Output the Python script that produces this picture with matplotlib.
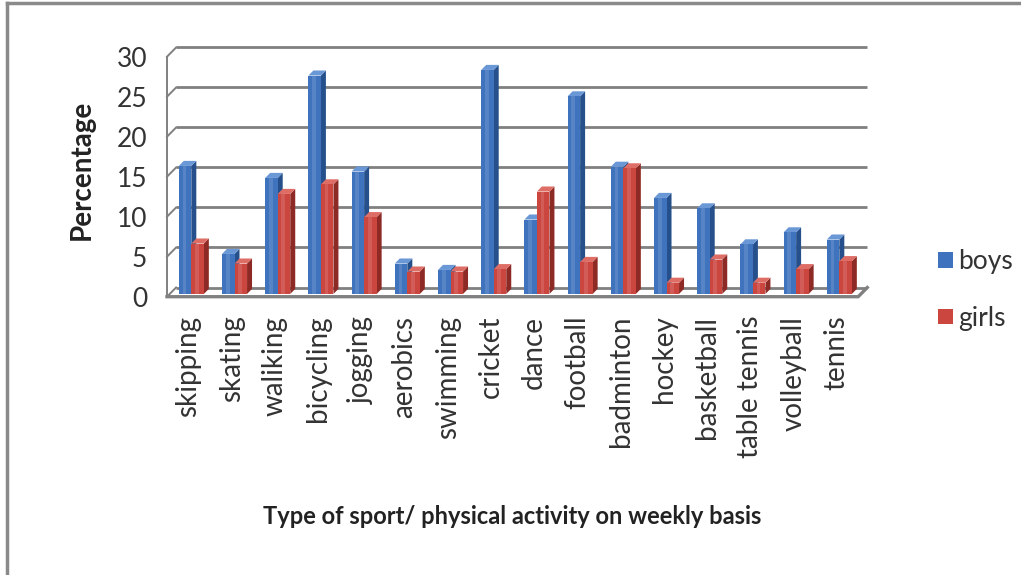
import matplotlib
matplotlib.use("Agg")
import matplotlib.pyplot as plt
from matplotlib.patches import Polygon, Patch
from matplotlib.lines import Line2D

plt.rcParams['font.family'] = ['Lato', 'DejaVu Sans']

activities = ['skipping', 'skating', 'waliking', 'bicycling', 'jogging', 'aerobics',
              'swimming', 'cricket', 'dance', 'football', 'badminton', 'hockey',
              'basketball', 'table tennis', 'volleyball', 'tennis']
boys = [16.0, 5.0, 14.5, 27.3, 15.3, 3.8, 3.0, 28.0, 9.3, 24.7, 15.9, 12.0, 10.7, 6.2, 7.7, 6.8]
girls = [6.3, 3.8, 12.5, 13.7, 9.6, 2.8, 2.8, 3.1, 12.8, 4.0, 15.7, 1.4, 4.3, 1.4, 3.1, 4.1]
yticks = [0, 5, 10, 15, 20, 25, 30]

W, H = 1021, 575
fig = plt.figure(figsize=(W / 100, H / 100), dpi=100)

# pixel scale of the plot area
PX_CAT, PX_UNIT = 43.2, 8.0
X0PX, Y0PX = 167.0, 296.7          # where x=-0.5, y=0 land (pixels from top-left)
xlim = (-0.7, 15.9)
ylim = (-1.5, 31.5)
left = X0PX + (xlim[0] + 0.5) * PX_CAT
bottom = Y0PX - ylim[0] * PX_UNIT
ax = fig.add_axes([left / W, 1 - bottom / H,
                   (xlim[1] - xlim[0]) * PX_CAT / W,
                   (ylim[1] - ylim[0]) * PX_UNIT / H])
ax.set_xlim(*xlim)
ax.set_ylim(*ylim)
for s in ax.spines.values():
    s.set_visible(False)

# depth of the floor / back wall in data units
DX, DY = 0.21, 1.15
grid_c = '#808080'
n = len(activities)

# back wall gridlines and side wall edges
for v in yticks:
    ax.plot([-0.5 + DX, n - 0.5 + DX], [v + DY, v + DY], color=grid_c, lw=2.0, zorder=1,
            solid_capstyle='butt')
    ax.plot([-0.5, -0.5 + DX], [v, v + DY], color=grid_c, lw=1.4, zorder=1)
ax.plot([-0.5, -0.5], [0, 30], color=grid_c, lw=1.4, zorder=1)
# floor front edge
ax.plot([-0.5, n - 0.5, n - 0.5 + DX], [0, 0, DY], color=grid_c, lw=2.4, zorder=1)


def bar3d(x0, w, h, front, side, top):
    f, d = 0.3, 0.55
    bx, by = x0 + DX * f, DY * f
    ox, oy = DX * d, DY * d
    ax.add_patch(Polygon([(bx + w, by), (bx + w + ox, by + oy), (bx + w + ox, by + h + oy),
                          (bx + w, by + h)], closed=True, fc=side, ec='none', zorder=3))
    ax.add_patch(Polygon([(bx, by + h), (bx + ox, by + h + oy), (bx + w + ox, by + h + oy),
                          (bx + w, by + h)], closed=True, fc=top, ec='none', zorder=3))
    ax.add_patch(Polygon([(bx, by), (bx + w, by), (bx + w, by + h), (bx, by + h)],
                         closed=True, fc=front, ec='none', zorder=3))
    ax.add_patch(Polygon([(bx + w * 0.3, by), (bx + w * 0.6, by), (bx + w * 0.6, by + h),
                          (bx + w * 0.3, by + h)], closed=True, fc='white', alpha=0.12,
                         ec='none', zorder=3))


bw = 0.29
blue = ('#3f73bd', '#25508c', '#6a97d6')
red = ('#cc4640', '#8e2a25', '#de6d66')
for i in range(n):
    bar3d(i - bw, bw, boys[i], *blue)
    bar3d(i, bw, girls[i], *red)

ax.set_yticks(yticks)
ax.set_yticklabels([str(v) for v in yticks], fontsize=19, color='#333333')
ax.set_xticks(range(n))
ax.set_xticklabels(activities, rotation=90, fontsize=20, color='#333333', va='top', ha='center')
ax.tick_params(axis='both', length=0)
ax.tick_params(axis='y', pad=8)
ax.tick_params(axis='x', pad=5)

fig.text(82 / W, 1 - 170 / H, 'Percentage', rotation=90, fontsize=20, fontweight='bold',
         ha='center', va='center', color='#222222')
fig.text(512 / W, 1 - 516 / H, 'Type of sport/ physical activity on weekly basis',
         fontsize=17, fontweight='bold', ha='center', va='center', color='#222222')

handles = [Patch(fc=blue[0], ec='none'), Patch(fc=red[0], ec='none')]
fig.legend(handles, ['boys', 'girls'], loc='center left', bbox_to_anchor=(938 / W, 1 - 290 / H),
           frameon=False, fontsize=19, handlelength=0.55, handleheight=0.55,
           handletextpad=0.2, labelspacing=1.2, borderpad=0, borderaxespad=0,
           labelcolor='#333333')

# outer frame (left and top edges)
fig.add_artist(Line2D([7 / W, 7 / W], [0, 1 - 3 / H], color='#8a8a8a', lw=2.5,
                      transform=fig.transFigure))
fig.add_artist(Line2D([7 / W, 1], [1 - 3 / H, 1 - 3 / H], color='#8a8a8a', lw=2.5,
                      transform=fig.transFigure))

fig.savefig('out.png', dpi=100, facecolor='white')
